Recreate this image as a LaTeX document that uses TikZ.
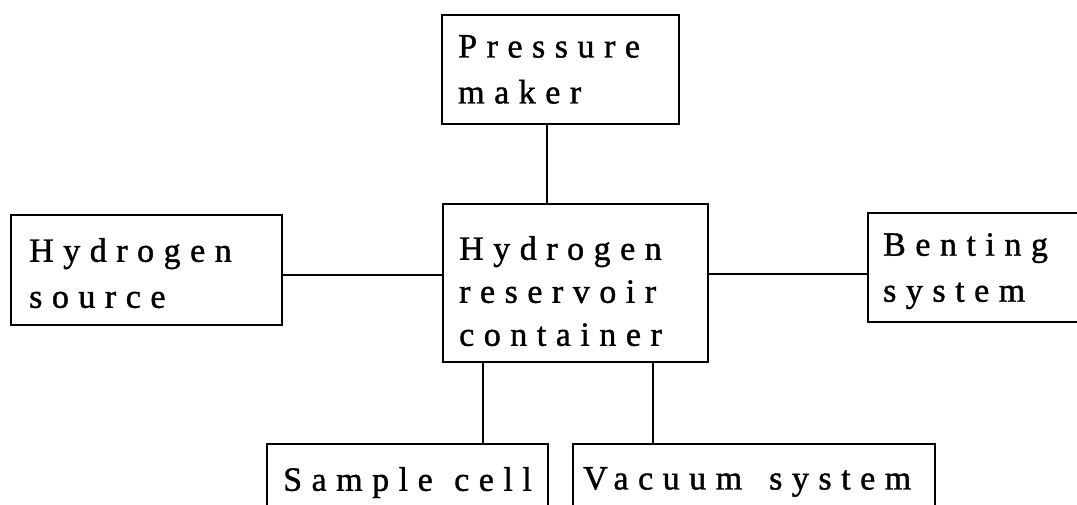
\documentclass[tikz,border=0pt]{standalone}
\usepackage{fontspec}
\setmainfont{Liberation Serif}
\newfontfamily\labfont[LetterSpace=28,FakeBold=1.2]{Liberation Serif}
\begin{document}
\begin{tikzpicture}[x=1pt,y=-1pt,
  box/.style={draw, line width=2pt, rectangle, anchor=north west, inner sep=0pt},
  lab/.style={anchor=north west, inner sep=0pt, align=left,
    font=\labfont\fontsize{34}{46}\selectfont},
  link/.style={line width=1.5pt}]
\useasboundingbox (0,0) rectangle (1077,505);
\clip (0,0) rectangle (1077,505);
\fill[white] (0,0) rectangle (1077,505);
% boxes
\node[box, minimum width=237pt, minimum height=109pt] (p) at (441,14) {};
\node[box, minimum width=265pt, minimum height=158pt] (r) at (442,203) {};
\node[box, minimum width=271pt, minimum height=110pt] (s) at (10,214) {};
\node[box, minimum width=240pt, minimum height=109pt] (b) at (867,212) {};
\node[box, minimum width=281pt, minimum height=90pt] (sc) at (266,443) {};
\node[box, minimum width=362pt, minimum height=90pt] (v) at (572,443) {};
% labels
\node[lab] (pt) at ([shift={(17,21)}]p.north west) {Pressure\\maker};
\node[lab, font=\labfont\fontsize{34}{43}\selectfont] (rt) at ([shift={(17,33)}]r.north west) {Hydrogen\\reservoir\\container};
\node[lab] (st) at ([shift={(19,24)}]s.north west) {Hydrogen\\source};
\node[lab] (bt) at ([shift={(16,21)}]b.north west) {Benting\\system};
\node[lab] (sct) at ([shift={(17,24)}]sc.north west) {\makebox[171pt][l]{Sample}cell};
\node[lab] (vt) at ([shift={(11,24)}]v.north west) {\makebox[186pt][l]{Vacuum}system};
% connector positions
\coordinate (cx1) at (547,0);
\coordinate (cx2) at (483,0);
\coordinate (cx3) at (653,0);
\coordinate (cy1) at (0,275);
\coordinate (cy2) at (0,274);
% connectors
\draw[link] (p.south -| cx1) -- (r.north -| cx1);
\draw[link] (s.east |- cy1) -- (r.west |- cy1);
\draw[link] (r.east |- cy2) -- (b.west |- cy2);
\draw[link] (r.south -| cx2) -- (sc.north -| cx2);
\draw[link] (r.south -| cx3) -- (v.north -| cx3);
\end{tikzpicture}
\end{document}
